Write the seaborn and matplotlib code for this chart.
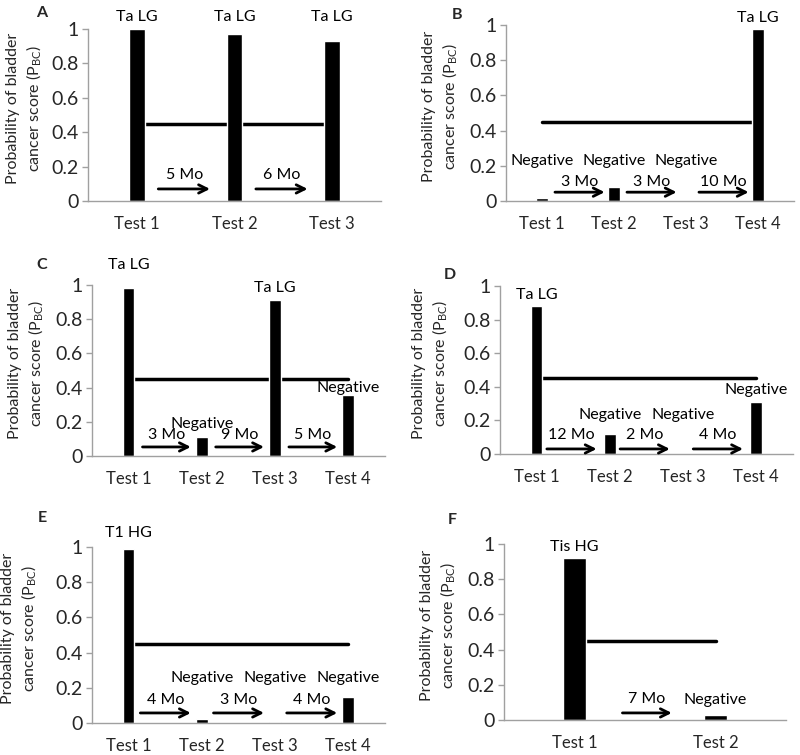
import matplotlib
matplotlib.use("Agg")
import matplotlib.pyplot as plt
import seaborn as sns
import pandas as pd
import numpy as np

sns.set_theme(style="white")
plt.rcParams['font.family'] = ['Lato', 'DejaVu Sans']

# ---- data ----
tests_A = ["Test 1", "Test 2", "Test 3"]
scores_A = [1.0, 0.97, 0.932]
labels_A = ["Ta LG", "Ta LG", "Ta LG"]
gaps_A = ["5 Mo", "6 Mo"]

tests_B = ["Test 1", "Test 2", "Test 3", "Test 4"]
scores_B = [0.015, 0.08, 0.0, 0.975]
labels_B = ["Negative", "Negative", "Negative", "Ta LG"]
gaps_B = ["3 Mo", "3 Mo", "10 Mo"]

tests_C = ["Test 1", "Test 2", "Test 3", "Test 4"]
scores_C = [0.985, 0.11, 0.915, 0.355]
labels_C = ["Ta LG", "Negative", "Ta LG", "Negative"]
gaps_C = ["3 Mo", "9 Mo", "5 Mo"]

tests_D = ["Test 1", "Test 2", "Test 3", "Test 4"]
scores_D = [0.88, 0.12, 0.0, 0.31]
labels_D = ["Ta LG", "Negative", "Negative", "Negative"]
gaps_D = ["12 Mo", "2 Mo", "4 Mo"]

tests_E = ["Test 1", "Test 2", "Test 3", "Test 4"]
scores_E = [0.99, 0.02, 0.005, 0.15]
labels_E = ["T1 HG", "Negative", "Negative", "Negative"]
gaps_E = ["4 Mo", "3 Mo", "4 Mo"]

tests_F = ["Test 1", "Test 2"]
scores_F = [0.92, 0.03]
labels_F = ["Tis HG", "Negative"]
gaps_F = ["7 Mo"]

threshold = 0.45

# ---- layout (positions / styles) ----
layout = {
    "A": dict(rect=[0.110, 0.7338, 0.366, 0.2278], letter=(42, 13), ylab_x=25,
              label_y=[1.07, 1.07, 1.07], arrow=(0.22, 0.75), arrow_y=0.07, gap_y=0.15),
    "B": dict(rect=[0.6325, 0.7338, 0.360, 0.2332], letter=(457, 15), ylab_x=441,
              label_y=[0.227, 0.227, 0.227, 1.04], arrow=(0.18, 0.87), arrow_y=0.05, gap_y=0.11),
    "C": dict(rect=[0.115, 0.396, 0.366, 0.2265], letter=(42, 265), ylab_x=27,
              label_y=[1.117, 0.19, 0.982, 0.398], arrow=(0.19, 0.85), arrow_y=0.053, gap_y=0.12),
    "D": dict(rect=[0.625, 0.3987, 0.366, 0.2225], letter=(450, 275), ylab_x=431,
              label_y=[0.946, 0.232, 0.232, 0.381], arrow=(0.14, 0.82), arrow_y=0.03, gap_y=0.113),
    "E": dict(rect=[0.115, 0.0424, 0.366, 0.2331], letter=(42, 518), ylab_x=20,
              label_y=[1.08, 0.256, 0.256, 0.256], arrow=(0.16, 0.85), arrow_y=0.057, gap_y=0.13),
    "F": dict(rect=[0.630, 0.0464, 0.3525, 0.2331], letter=(452, 520), ylab_x=439,
              label_y=[0.983, 0.114], arrow=(0.34, 0.69), arrow_y=0.04, gap_y=0.12),
}

panels = {
    "A": (tests_A, scores_A, labels_A, gaps_A),
    "B": (tests_B, scores_B, labels_B, gaps_B),
    "C": (tests_C, scores_C, labels_C, gaps_C),
    "D": (tests_D, scores_D, labels_D, gaps_D),
    "E": (tests_E, scores_E, labels_E, gaps_E),
    "F": (tests_F, scores_F, labels_F, gaps_F),
}

W, H = 800, 755
fig = plt.figure(figsize=(W / 100, H / 100), dpi=100)
spine_col = "#a0a0a0"

for key, (tests, scores, labels, gaps) in panels.items():
    lo = layout[key]
    ax = fig.add_axes(lo["rect"])
    df = pd.DataFrame({"test": tests, "score": scores})
    sns.barplot(data=df, x="test", y="score", order=tests, ax=ax,
                color="black", saturation=1, width=0.16, errorbar=None)
    n = len(tests)
    ax.plot([0, n - 1], [threshold, threshold], color="black", lw=2.5,
            solid_capstyle="round", zorder=1)
    for p in ax.patches:
        p.set_zorder(2)
    ax.set_xlim(-0.5, n - 0.5)
    ax.set_ylim(0, 1)
    ax.set_yticks([0, 0.2, 0.4, 0.6, 0.8, 1.0])
    ax.set_yticklabels(["0", "0.2", "0.4", "0.6", "0.8", "1"], fontsize=14)
    ax.set_xticks(range(n))
    ax.set_xticklabels(tests, fontsize=12)
    ax.set_xticks(np.arange(-0.5, n, 1.0), minor=True)
    ax.tick_params(axis="x", which="major", length=0, pad=11)
    ax.tick_params(axis="x", which="minor", length=5, width=1, color=spine_col, direction="out")
    ax.tick_params(axis="y", which="major", length=4, width=1, color=spine_col,
                   direction="out", left=True, pad=3)
    ax.set_xlabel("")
    ax.set_ylabel("Probability of bladder\ncancer score (P$_{\\mathregular{BC}}$)",
                  fontsize=11.5, linespacing=1.3)
    ax.yaxis.label.set_verticalalignment("center")
    x0_px = lo["rect"][0] * W
    w_px = lo["rect"][2] * W
    ax.yaxis.set_label_coords((lo["ylab_x"] - x0_px) / w_px, 0.54)
    for s in ["top", "right"]:
        ax.spines[s].set_visible(False)
    for s in ["left", "bottom"]:
        ax.spines[s].set_color(spine_col)
        ax.spines[s].set_linewidth(1)
    ax.patch.set_alpha(0)

    for i, (lab, ly) in enumerate(zip(labels, lo["label_y"])):
        ax.text(i, ly, lab, ha="center", va="center", fontsize=11.5,
                clip_on=False, color="black")

    a0, a1 = lo["arrow"]
    for i, g in enumerate(gaps):
        ax.annotate("", xy=(i + a1, lo["arrow_y"]), xytext=(i + a0, lo["arrow_y"]),
                    arrowprops=dict(arrowstyle="->", lw=2, color="black",
                                    shrinkA=0, shrinkB=0, mutation_scale=15))
        ax.text(i + (a0 + a1) / 2, lo["gap_y"], g, ha="center", va="center",
                fontsize=11.5, color="black")

    lx, ly = lo["letter"]
    fig.text(lx / W, 1 - ly / H, key, fontsize=11.5, fontweight="bold",
             ha="center", va="center")

fig.savefig("out.png", dpi=100)
